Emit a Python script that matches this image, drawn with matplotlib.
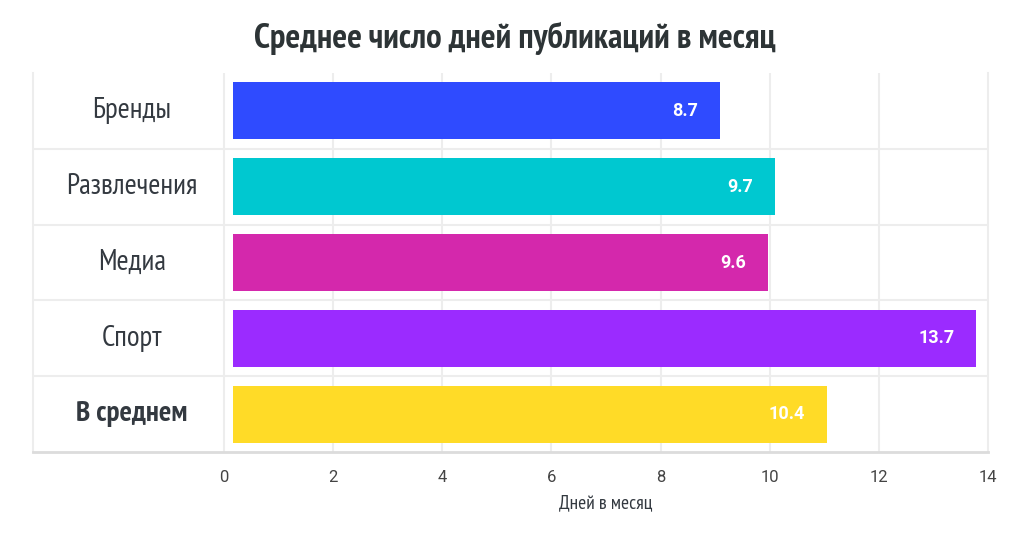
"""Среднее число дней публикаций в месяц - horizontal bars"""
import matplotlib
matplotlib.use('Agg')
import matplotlib.pyplot as plt

NARROW = ['PT Sans Narrow', 'Roboto Condensed', 'Fira Sans Condensed', 'DejaVu Sans']
ROBOTO = ['Roboto', 'DejaVu Sans']

categories = ['Бренды', 'Развлечения', 'Медиа', 'Спорт', 'В среднем']
value_labels = ['8.7', '9.7', '9.6', '13.7', '10.4']
# bar ends as they sit on the drawn axis (bars start slightly right of 0)
bar_start = 0.16
bar_ends = [9.09, 10.10, 9.97, 13.78, 11.05]
colors = ['#2f4bff', '#00c8d0', '#d428ac', '#9b2bff', '#ffdb27']
xticks = [0, 2, 4, 6, 8, 10, 12, 14]

TEXT = '#333940'
GRID = '#ededed'

fig = plt.figure(figsize=(10.24, 5.36), dpi=100)
ax = fig.add_axes([33 / 1024, 1 - 452 / 536, 955 / 1024, 379 / 536])

ypos = list(range(len(categories)))
widths = [e - bar_start for e in bar_ends]
ax.barh(ypos, widths, left=bar_start, height=0.75, color=colors, zorder=3)

for y, e, lab in zip(ypos, bar_ends, value_labels):
    ax.text(e - 0.4, y, lab, ha='right', va='center', color='white',
            fontsize=13, fontweight='bold', family=ROBOTO, zorder=4)

for y, cat in zip(ypos, categories):
    ax.text(-1.69, y, cat, ha='center', va='center', color=TEXT, fontsize=21,
            family=NARROW, fontweight='bold' if cat == 'В среднем' else 'normal')

ax.set_xlim(-3.5, 14)
ax.set_ylim(4.5, -0.5)

# grid: vertical lines at ticks, horizontal separators between rows
for x in xticks[:-1]:
    ax.axvline(x, color=GRID, lw=1.5, zorder=1)
for y in [0.5, 1.5, 2.5, 3.5]:
    ax.axhline(y, color=GRID, lw=1.5, zorder=1)

ax.set_xticks(xticks)
ax.set_xticklabels([str(t) for t in xticks], family=ROBOTO, fontsize=12, color='#444444')
ax.tick_params(axis='x', length=0, pad=13)
ax.set_yticks([])

ax.spines['top'].set_visible(False)
ax.spines['left'].set_color(GRID)
ax.spines['left'].set_linewidth(1.5)
ax.spines['right'].set_color(GRID)
ax.spines['right'].set_linewidth(1.5)
ax.spines['bottom'].set_color('#dcdcdc')
ax.spines['bottom'].set_linewidth(2)

ax.text(7, 5.18, 'Дней в месяц', ha='center', va='center', clip_on=False,
        fontsize=14, family=NARROW, color=TEXT)

fig.text(0.503, 1 - 38 / 536, 'Среднее число дней публикаций в месяц', ha='center',
         va='center', fontsize=25, fontweight='bold', family=NARROW, color='#2d3436')

fig.savefig('out.png')
